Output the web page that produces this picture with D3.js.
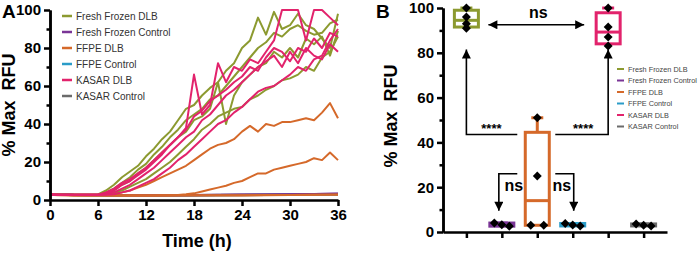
<!DOCTYPE html>
<html>
<head>
<meta charset="utf-8">
<script src="https://cdn.jsdelivr.net/npm/d3@7"></script>
<style>
  body { margin: 0; background: #fff; }
  svg { display: block; font-family: Arial, "Liberation Sans", sans-serif; }
  .axis path, .axis line { stroke: #000; stroke-width: 2.5; }
  .axis text { font-size: 15px; font-weight: bold; fill: #000; font-family: Arial, "Liberation Sans", sans-serif; }
  .title { font-size: 18px; font-weight: bold; white-space: pre; }
</style>
</head>
<body>
<svg id="chart" width="699" height="253"></svg>
<script>
// ---------- data ----------
const seriesNames = ['Fresh Frozen DLB', 'Fresh Frozen Control', 'FFPE DLB', 'FFPE Control', 'KASAR DLB', 'KASAR Control'];
const seriesColors = ['#8c9a30', '#7a3596', '#d5692a', '#2a9cc8', '#e2236c', '#6b6b6b'];

const hours = [0,1,2,3,4,5,6,7,8,9,10,11,12,13,14,15,16,17,18,19,20,21,22,23,24,25,26,27,28,29,30,31,32,33,34,35,36];
const hoursCoarse = [0,3,6,9,12,15,18,21,24,27,30,33,36];

const yTicks = [0, 20, 40, 60, 80, 100];
const yMinorTicks = [10, 30, 50, 70, 90];
const xTicksA = [0, 6, 12, 18, 24, 30, 36];

// kinetic curves, % max RFU per hour
const freshFrozenDlb = [
  [3.2,2.8,2.7,2.7,2.8,2.7,2.9, 5,8,12,15,18,23,27,32,36,42, 48,50,55,59,62,68,72,80,84,96, 87,99,90,92,98,92,90,85,80,98],
  [3.0,2.8,2.7,2.8,2.7,2.8,2.8, 4,6,9,12,16,19,24,28,33,37, 42,45,48,53,55,60,65,70,75,80, 83,88,86,90,92,89,87,88,93,95],
  [3.1,2.8,2.8,2.7,2.7,2.8,2.8, 3.5,5,8,10,14,17,21,25,29,33, 36,42,44,48,62,40,55,62,66,70, 72,78,75,80,75,85,82,86,76,89],
  [3.0,2.7,2.7,2.7,2.8,2.7,2.8, 3,4,5,7,9,11,14,17,20,24, 28,32,37,40,44,46,48,49,53,55, 58,60,63,64,66,70,68,75,78,86]
];
const kasarDlb = [
  [3.0,2.8,2.7,2.7,2.7,2.8,2.8, 4,6,9,11,14,17,21,25,29,33, 38,66,45,50,72,62,70,68,74,72, 78,84,100,100,100,84,100,100,96,92],
  [3.0,2.7,2.7,2.8,2.7,2.7,2.8, 3.5,5,8,10,13,16,20,24,29,33, 37,44,47,52,55,58,62,65,70,68, 75,80,78,73,80,78,85,80,88,86],
  [2.9,2.7,2.7,2.7,2.7,2.7,2.7, 3,4,6,8,11,14,17,21,25,29, 33,36,42,45,50,55,58,62,66,70, 73,76,70,78,72,80,76,74,82,78],
  [2.9,2.7,2.7,2.7,2.7,2.7,2.7, 2.8,3,4,5,7,9,11,14,17,21, 24,28,32,36,40,42,46,49,53,57, 59,60,63,66,70,68,74,76,84,90]
];
const ffpeDlb = [
  [3.0,2.6,2.5,2.5,2.5,2.5,2.6, 3.2,3.5,4,5,6.5,8,10,12,14,16, 18,21,24,27,29,30,32,36,39,36, 40,39,41,41,42,43,42,46,51,43],
  [2.8,2.5,2.5,2.4,2.4,2.4,2.4, 2.4,2.4,2.4,2.4,2.4,2.4,2.4,2.5,2.5,2.6, 3,3.5,4.5,5.5,6.5,7.5,9,10,12,14, 14,16,17,18,19,20,22,21,25,21],
  [3.0,2.5,2.4,2.4,2.4,2.4,2.4,2.4,2.4,2.5,2.6,2.7,2.8],
  [2.9,2.5,2.5,2.4,2.4,2.4,2.5,2.5,2.5,2.6,2.6,2.8,2.9]
];
const freshFrozenControl = [
  [3.2,2.7,2.6,2.6,2.5,2.6,2.6,2.7,2.8,2.9,3.0,3.2,3.4],
  [3.1,2.6,2.6,2.5,2.5,2.5,2.6,2.6,2.7,2.8,2.9,3.1,3.3],
  [3.0,2.6,2.5,2.5,2.5,2.5,2.5,2.6,2.7,2.7,2.8,3.0,3.1]
];
const ffpeControl = [
  [3.1,2.6,2.5,2.5,2.5,2.5,2.5,2.6,2.6,2.7,2.8,2.9,3.0],
  [3.0,2.6,2.5,2.5,2.4,2.5,2.5,2.5,2.6,2.6,2.7,2.8,2.9],
  [3.0,2.5,2.5,2.4,2.4,2.4,2.5,2.5,2.5,2.6,2.7,2.8,2.9]
];
const kasarControl = [
  [3.2,2.7,2.6,2.6,2.6,2.6,2.6,2.7,2.7,2.8,2.9,3.0,3.2],
  [3.1,2.6,2.6,2.5,2.5,2.5,2.6,2.6,2.7,2.7,2.8,2.9,3.1],
  [3.0,2.6,2.5,2.5,2.5,2.5,2.5,2.6,2.6,2.7,2.7,2.8,3.0]
];

// endpoint values for panel B, in seriesNames order
const endpointFreshFrozenDlb = [100, 96, 93, 91];
const endpointFreshFrozenControl = [4, 3.2, 2.6];
const endpointFfpeDlb = [51, 25, 3, 3];
const endpointFfpeControl = [3.8, 3.1, 2.7];
const endpointKasarDlb = [100, 91.5, 87, 83];
const endpointKasarControl = [3.6, 3.0, 2.7];

// ---------- setup ----------
const svg = d3.select('#chart');

const defs = svg.append('defs');
defs.append('marker')
  .attr('id', 'head')
  .attr('viewBox', '0 0 10 10')
  .attr('refX', 10).attr('refY', 5)
  .attr('markerUnits', 'userSpaceOnUse')
  .attr('markerWidth', 10).attr('markerHeight', 9)
  .attr('orient', 'auto-start-reverse')
  .append('path').attr('d', 'M0,0L10,5L0,10Z').attr('fill', '#000');

// ================= panel A =================
const xA = d3.scaleLinear().domain([0, 36]).range([50, 338]);
const yA = d3.scaleLinear().domain([0, 100]).range([200, 10]);
const gA = svg.append('g');

const lineA = times => d3.line().x((d, i) => xA(times[i])).y(d => yA(d));
const timeFor = vals => vals.length === hours.length ? hours : hoursCoarse;

// draw order: controls, FFPE, then DLB curves
const drawOrder = [
  {vals: kasarControl, c: 5}, {vals: ffpeControl, c: 3}, {vals: freshFrozenControl, c: 1},
  {vals: ffpeDlb, c: 2}, {vals: freshFrozenDlb, c: 0}, {vals: kasarDlb, c: 4}
];
drawOrder.forEach(grp => {
  gA.append('g').selectAll('path')
    .data(grp.vals)
    .enter().append('path')
    .attr('d', v => lineA(timeFor(v))(v))
    .attr('fill', 'none')
    .attr('stroke', seriesColors[grp.c])
    .attr('stroke-width', 2)
    .attr('stroke-linejoin', 'round');
});

// axes A
gA.append('g').attr('class', 'axis').attr('transform', 'translate(50,0)')
  .call(d3.axisLeft(yA).tickValues(yMinorTicks).tickSize(3.5).tickSizeOuter(0).tickFormat(''));
gA.append('g').attr('class', 'axis').attr('transform', 'translate(50,0)')
  .call(d3.axisLeft(yA).tickValues(yTicks).tickSize(6).tickSizeOuter(0).tickPadding(3));
gA.append('g').attr('class', 'axis').attr('transform', 'translate(0,200)')
  .call(d3.axisBottom(xA).tickValues(xTicksA).tickSize(6).tickSizeOuter(0).tickPadding(3));

// legend A
const legA = gA.append('g').selectAll('g')
  .data(seriesNames).enter().append('g')
  .attr('transform', (d, i) => `translate(62,${16 + i * 16})`);
legA.append('line').attr('x1', 0).attr('x2', 10)
  .attr('stroke', (d, i) => seriesColors[i]).attr('stroke-width', 2.5);
legA.append('text').attr('x', 14).attr('y', 3.6)
  .attr('font-size', 10).attr('fill', '#333').text(d => d);

// titles A
svg.append('text').attr('class', 'title')
  .attr('transform', 'translate(15,105) rotate(-90)')
  .attr('text-anchor', 'middle').text('% Max  RFU');
svg.append('text').attr('class', 'title')
  .attr('x', 197).attr('y', 247).attr('text-anchor', 'middle').text('Time (h)');
svg.append('text').attr('x', 2).attr('y', 18)
  .attr('font-size', 19).attr('font-weight', 'bold').text('A');

// ================= panel B =================
const xB = d3.scalePoint().domain(seriesNames).range([443, 667]).padding(0.66);
const yB = d3.scaleLinear().domain([0, 100]).range([232, 8]);
const gB = svg.append('g');

const endpoints = [endpointFreshFrozenDlb, endpointFreshFrozenControl, endpointFfpeDlb,
  endpointFfpeControl, endpointKasarDlb, endpointKasarControl];

// quartile with (n+1)p position
function quart(sorted, p) {
  const h = (sorted.length + 1) * p;
  const lo = Math.floor(h);
  if (lo < 1) return sorted[0];
  if (lo >= sorted.length) return sorted[sorted.length - 1];
  return sorted[lo - 1] + (h - lo) * (sorted[lo] - sorted[lo - 1]);
}

const boxData = endpoints.map((vals, i) => {
  const s = vals.slice().sort(d3.ascending);
  return {name: seriesNames[i], color: seriesColors[i], vals: vals,
    min: s[0], max: s[s.length - 1], q1: quart(s, 0.25), med: quart(s, 0.5), q3: quart(s, 0.75)};
});

const boxW = 24, capW = 12;
const boxes = gB.selectAll('.box').data(boxData).enter().append('g')
  .attr('class', 'box')
  .attr('transform', d => `translate(${xB(d.name)},0)`)
  .attr('stroke', d => d.color).attr('stroke-width', 3);
boxes.append('line').attr('x1', 0).attr('x2', 0).attr('y1', d => yB(d.max)).attr('y2', d => yB(d.q3));
boxes.append('line').attr('x1', 0).attr('x2', 0).attr('y1', d => yB(d.q1)).attr('y2', d => yB(d.min));
boxes.append('line').attr('x1', -capW / 2).attr('x2', capW / 2).attr('y1', d => yB(d.max)).attr('y2', d => yB(d.max));
boxes.append('rect').attr('x', -boxW / 2).attr('width', boxW)
  .attr('y', d => yB(d.q3)).attr('height', d => yB(d.q1) - yB(d.q3)).attr('fill', '#fff');
boxes.append('line').attr('x1', -boxW / 2).attr('x2', boxW / 2).attr('y1', d => yB(d.med)).attr('y2', d => yB(d.med));

// points, spread sideways when values nearly coincide
const pts = [];
boxData.forEach(b => {
  const s = b.vals.slice().sort(d3.descending);
  let cluster = [s[0]];
  const flush = () => {
    const k = cluster.length, step = k === 2 ? 13 : 7.5;
    cluster.forEach((v, j) => pts.push({x: xB(b.name) + (j - (k - 1) / 2) * step, v: v}));
  };
  for (let j = 1; j < s.length; j++) {
    if (Math.abs(s[j] - cluster[cluster.length - 1]) < 1.5) cluster.push(s[j]);
    else { flush(); cluster = [s[j]]; }
  }
  flush();
});
gB.append('g').selectAll('path').data(pts).enter().append('path')
  .attr('d', d3.symbol(d3.symbolSquare, 40))
  .attr('transform', d => `translate(${d.x},${yB(d.v)}) rotate(45)`)
  .attr('fill', '#000');

// axes B
gB.append('g').attr('class', 'axis').attr('transform', 'translate(443,0)')
  .call(d3.axisLeft(yB).tickValues(yMinorTicks).tickSize(3.5).tickSizeOuter(0).tickFormat(''));
gB.append('g').attr('class', 'axis').attr('transform', 'translate(443,0)')
  .call(d3.axisLeft(yB).tickValues(yTicks).tickSize(6).tickSizeOuter(0).tickPadding(3));
gB.append('g').attr('class', 'axis').attr('transform', 'translate(0,232)')
  .call(d3.axisBottom(xB).tickSize(6).tickSizeOuter(0).tickFormat(''));

// significance annotations
const ann = gB.append('g').attr('stroke', '#000').attr('stroke-width', 1.6).attr('fill', 'none');
const c = seriesNames.map(n => xB(n));
const brY = yB(43.5), lowY = yB(26);
ann.append('line').attr('x1', c[0] + 22).attr('x2', c[4] - 24).attr('y1', yB(92.5)).attr('y2', yB(92.5))
  .attr('marker-start', 'url(#head)').attr('marker-end', 'url(#head)');
ann.append('polyline').attr('points', `${c[2] - 20},${brY} ${c[0]},${brY} ${c[0]},${yB(81.5)}`)
  .attr('marker-end', 'url(#head)');
ann.append('polyline').attr('points', `${c[2] + 18},${brY} ${c[4]},${brY} ${c[4]},${yB(81.5)}`)
  .attr('marker-end', 'url(#head)');
ann.append('polyline').attr('points', `${c[2] - 20},${lowY} ${c[1] - 3},${lowY} ${c[1] - 3},${yB(9.5)}`)
  .attr('marker-end', 'url(#head)');
ann.append('polyline').attr('points', `${c[2] + 18},${lowY} ${c[3] + 1},${lowY} ${c[3] + 1},${yB(9.5)}`)
  .attr('marker-end', 'url(#head)');

const lab = gB.append('g').attr('font-weight', 'bold').attr('text-anchor', 'middle');
lab.append('text').attr('x', (c[0] + c[4]) / 2 + 1).attr('y', 18).attr('font-size', 16).text('ns');
lab.append('text').attr('x', c[1] + 12).attr('y', 191).attr('font-size', 16).text('ns');
lab.append('text').attr('x', c[3] - 11).attr('y', 191).attr('font-size', 16).text('ns');
lab.append('text').attr('x', c[0] + 25).attr('y', 133).attr('font-size', 13).text('****');
lab.append('text').attr('x', c[4] - 25).attr('y', 133).attr('font-size', 13).text('****');

// legend B
const legB = gB.append('g').selectAll('g')
  .data(seriesNames).enter().append('g')
  .attr('transform', (d, i) => `translate(617,${69 + i * 11.5})`);
legB.append('line').attr('x1', 0).attr('x2', 7)
  .attr('stroke', (d, i) => seriesColors[i]).attr('stroke-width', 2);
legB.append('text').attr('x', 11).attr('y', 2.6)
  .attr('font-size', 7.3).attr('fill', '#444').text(d => d);

// titles B
svg.append('text').attr('class', 'title')
  .attr('transform', 'translate(397,116) rotate(-90)')
  .attr('text-anchor', 'middle').text('% Max  RFU');
svg.append('text').attr('x', 376).attr('y', 18)
  .attr('font-size', 19).attr('font-weight', 'bold').text('B');
</script>
</body>
</html>
